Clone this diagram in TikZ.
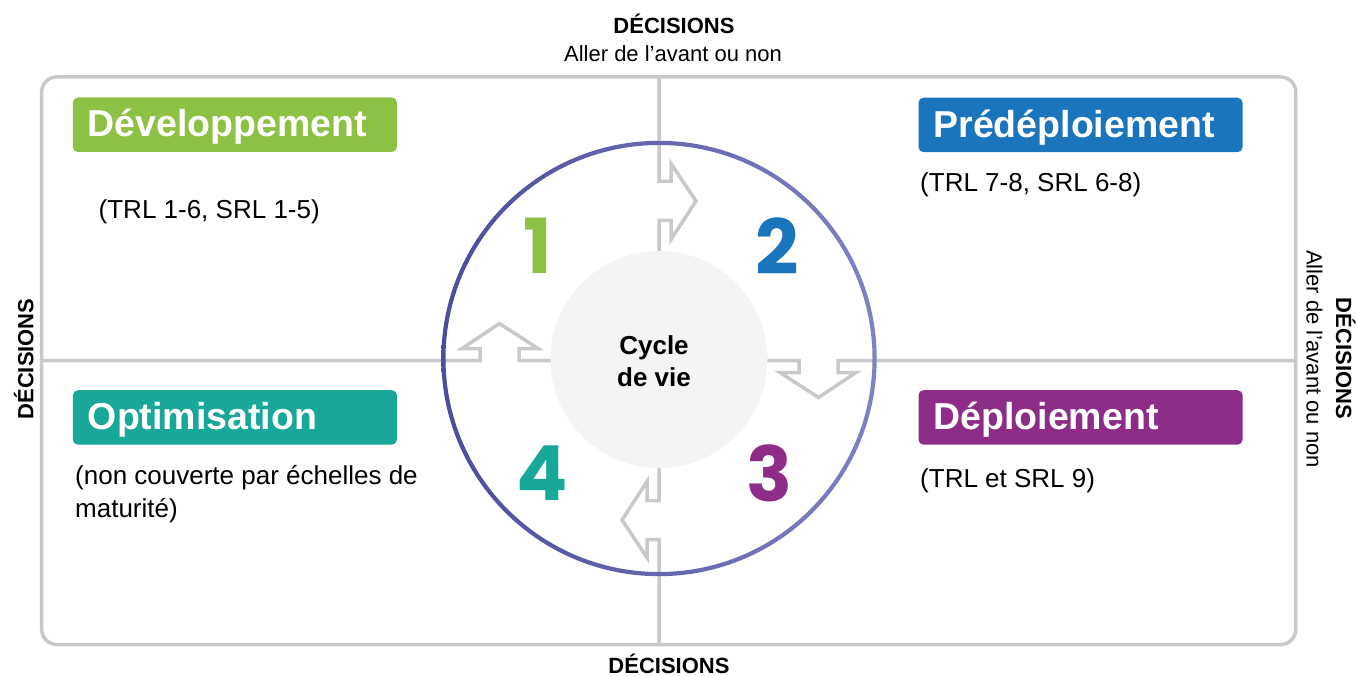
\documentclass[tikz,border=0pt]{standalone}
\usepackage{fontspec}
\setmainfont{Liberation Sans}
\newfontfamily\numfont{Poppins}

\definecolor{linegray}{HTML}{C9C9C9}
\definecolor{hubgray}{HTML}{F4F4F4}
\definecolor{ringdark}{HTML}{4B4D9D}
\definecolor{ringlight}{HTML}{7E81C2}
\definecolor{devgreen}{HTML}{8DC143}
\definecolor{preblue}{HTML}{1B75BC}
\definecolor{optteal}{HTML}{17A89A}
\definecolor{deppurple}{HTML}{8E2D87}

\begin{document}
\begin{tikzpicture}[x=1pt,y=-1pt,
  frame/.style={draw=linegray, line width=3.5pt},
  phase/.style={anchor=north west, inner xsep=15pt, inner ysep=0pt,
    text width=294pt, text height=39.4pt, text depth=15.1pt, align=left,
    rounded corners=5pt, text=white,
    font=\fontsize{37.5}{40}\selectfont\bfseries},
  note/.style={anchor=base west, inner sep=0pt,
    font=\fontsize{26}{33}\selectfont},
  decision/.style={inner sep=0pt, anchor=base,
    font=\fontsize{22}{26}\selectfont\bfseries},
  hint/.style={inner sep=0pt, anchor=base,
    font=\fontsize{22}{26}\selectfont},
  stepnum/.style={inner sep=0pt, anchor=center,
    font=\fontsize{76}{80}\selectfont\numfont\bfseries},
]
\useasboundingbox (0,0) rectangle (1357,676);

% outer frame
\draw[frame, rounded corners=15pt] (41.7,77) rectangle (1295.7,644.5);

% the four half-axes, each with a block arrow set into it (clockwise)
\foreach \ang/\len in {0/283.5, -90/636.7, -180/284, 90/617.3}{
  \begin{scope}[shift={(659,360.5)}, rotate=\ang]
    \draw[frame, line join=miter]
      (0,-\len) -- (0,-179) -- (12,-179) -- (12,-197) -- (37,-159.5)
      -- (12,-121) -- (12,-140) -- (0,-140) -- (0,-100);
  \end{scope}
}

% outer ring
\shade[left color=ringdark, right color=ringlight, even odd rule]
  (659,358.5) circle[radius=217.7pt] (659,358.5) circle[radius=213.5pt];

% hub
\node[circle, fill=hubgray, minimum size=217pt, inner sep=0pt,
      label={[xshift=-5pt, yshift=-1.5pt, align=center,
              font=\fontsize{26}{32}\selectfont\bfseries]center:Cycle\\de vie}]
  (hub) at (659,359.5) {};

% step numbers
\node[stepnum, text=devgreen]  (n1) at (538,245.7) {1};
\node[stepnum, text=preblue]   (n2) at (776.7,245.7) {2};
\node[stepnum, text=deppurple] (n3) at (769,473.3) {3};
\node[stepnum, text=optteal]   (n4) at (542,473.3) {4};

% phase labels
\node[phase, fill=devgreen]  (dev) at (72.7,97.3)  {Développement};
\node[phase, fill=preblue]   (pre) at (918.3,97.5) {Prédéploiement};
\node[phase, fill=optteal]   (opt) at (72.7,390)   {Optimisation};
\node[phase, fill=deppurple] (dep) at (918.3,390)  {Déploiement};

% maturity levels
\node[note] (devnote) at (98.5,218.3) {(TRL 1-6, SRL 1-5)};
\node[note] (prenote) at (920,191.7)  {(TRL 7-8, SRL 6-8)};
\node[note] (optnote) at (75,484)
  {\vtop{\hbox{(non couverte par échelles de}\hbox{maturité)}}};
\node[note] (depnote) at (920,487)    {(TRL et SRL 9)};

% decision points
\node[decision] (dtop) at (674,33.3) {DÉCISIONS};
\node[hint]     (htop) at (673,61.7) {Aller de l’avant ou non};
\node[decision] (dbot) at (669,673)  {DÉCISIONS};
\node[decision, rotate=90]  (dleft)  at (33.3,359)  {DÉCISIONS};
\node[decision, rotate=-90] (dright) at (1336,358.5) {DÉCISIONS};
\node[hint, rotate=-90]     (hright) at (1306.5,359) {Aller de l’avant ou non};
\end{tikzpicture}
\end{document}
